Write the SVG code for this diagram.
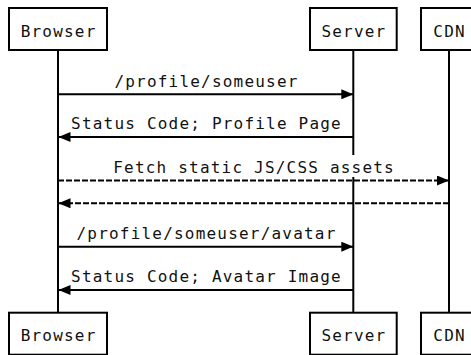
<svg xmlns="http://www.w3.org/2000/svg" width="471" height="355" viewBox="0 0 471 355">
<style>
.box{fill:#fff;stroke:#000;stroke-width:2}
.life{stroke:#000;stroke-width:2;fill:none}
.msg{stroke:#000;stroke-width:2;fill:none}
.dash{stroke-dasharray:6,2}
.bg{fill:#fff;stroke:none}
text{font-family:"DejaVu Sans Mono","Liberation Mono",monospace;font-size:16px;letter-spacing:1.2px;fill:#111;text-anchor:middle}
</style>
<defs>
<marker id="arr" markerUnits="userSpaceOnUse" viewBox="0 0 12 10" refX="12" refY="5" markerWidth="12" markerHeight="10" orient="auto">
<path d="M0,0 L12,5 L0,10 z" fill="#000"/>
</marker>
</defs>
<rect width="471" height="355" fill="#fff"/>
<g id="lifelines">
<line class="life" x1="58" y1="50" x2="58" y2="313"/>
<line class="life" x1="353.3" y1="50" x2="353.3" y2="313"/>
<line class="life" x1="449" y1="50" x2="449" y2="313"/>
</g>
<g id="browser-top"><rect class="box" x="9" y="8" width="98" height="42"/><text x="58.6" y="37">Browser</text></g>
<g id="server-top"><rect class="box" x="310" y="8" width="86.7" height="42"/><text x="353.9" y="37">Server</text></g>
<g id="cdn-top"><rect class="box" x="421" y="8" width="56" height="42"/><text x="449.6" y="37">CDN</text></g>
<g id="browser-bottom"><rect class="box" x="9" y="312.7" width="98" height="42"/><text x="58.6" y="341">Browser</text></g>
<g id="server-bottom"><rect class="box" x="310" y="312.7" width="86.7" height="42"/><text x="353.9" y="341">Server</text></g>
<g id="cdn-bottom"><rect class="box" x="421" y="312.7" width="56" height="42"/><text x="449.6" y="341">CDN</text></g>
<g id="connectors">
<line class="msg" x1="58" y1="94.3" x2="353.3" y2="94.3" marker-end="url(#arr)"/>
<text x="206.5" y="86.7">/profile/someuser</text>
<line class="msg" x1="353.3" y1="137" x2="58.5" y2="137" marker-end="url(#arr)"/>
<text x="206.5" y="129.3">Status Code; Profile Page</text>
<line class="msg dash" x1="58" y1="180.5" x2="449" y2="180.5" marker-end="url(#arr)"/>
<rect class="bg" x="110" y="155" width="288" height="22"/>
<text x="254.1" y="172.8">Fetch static JS/CSS assets</text>
<line class="msg dash" x1="449" y1="203.3" x2="58.5" y2="203.3" marker-end="url(#arr)"/>
<line class="msg" x1="58" y1="246.7" x2="353.3" y2="246.7" marker-end="url(#arr)"/>
<text x="206.5" y="239">/profile/someuser/avatar</text>
<line class="msg" x1="353.3" y1="290" x2="58.5" y2="290" marker-end="url(#arr)"/>
<text x="206.5" y="282.3">Status Code; Avatar Image</text>
</g>
</svg>
